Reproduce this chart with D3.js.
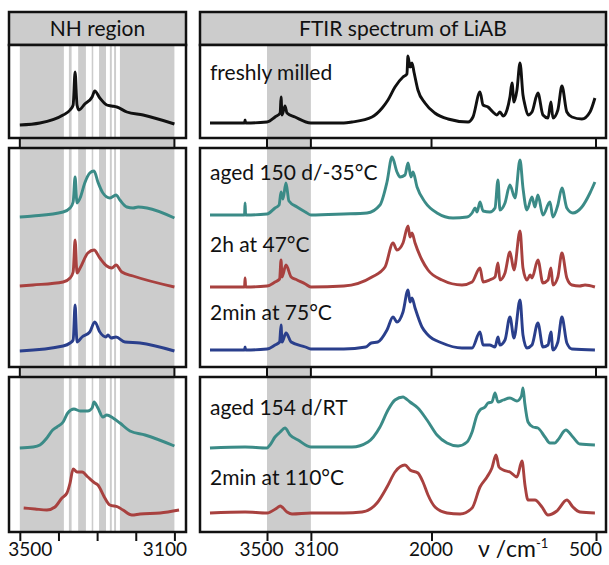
<!DOCTYPE html>
<html>
<head>
<meta charset="utf-8">
<script src="https://cdn.jsdelivr.net/npm/d3@7"></script>
<style>
  body { margin: 0; background: #fff; }
  text { font-family: Lato, 'Liberation Sans', sans-serif; fill: #111; }
</style>
</head>
<body>
<script>
// tick values / labels
var nhTicks = [3500, 3400, 3300, 3200, 3100],
    nhTickLabels = [3500, 3100],
    ftirTicks = [3500, 3100, 2000, 500],
    shadeRange = [3500, 3100];

// grey bands behind the NH region (white stripes in between)
var nhBands = [[3500, 3386], [3373, 3366], [3349, 3329], [3314, 3310],
               [3295, 3277], [3267, 3262], [3256, 3251], [3241, 3100]];

var sampleNames = ['freshly milled', 'aged 150 d/-35\u00B0C', '2h at 47\u00B0C',
                   '2min at 75\u00B0C', 'aged 154 d/RT', '2min at 110\u00B0C'];

// full spectra [wavenumber, absorbance a.u.]
var freshFull = [[4020,0],[3705,0],[3700,3],[3695,0],[3500,1],[3427,6],[3380,10],[3372,26],[3363,8],[3336,17],[3318,10],[3245,6],[3100,0],[2800,0],[2725,1],[2543,6],[2450,15],[2397,23],[2333,36],[2260,46],[2224,49],[2215,67],[2196,56],[2178,60],[2160,51],[2124,33],[2060,20],[1970,10],[1850,4],[1667,1],[1622,6],[1558,31],[1530,18],[1485,16],[1440,11],[1404,8],[1376,11],[1346,7],[1312,13],[1285,26],[1266,40],[1248,21],[1221,33],[1193,60],[1166,28],[1148,18],[1120,8],[1084,11],[1030,30],[984,8],[938,5],[911,21],[893,5],[848,13],[811,37],[766,11],[720,6],[629,4],[555,11],[510,25]];

var aged150Full = [[4020,0],[3705,0],[3700,12],[3695,0],[3500,1],[3427,7],[3390,10],[3372,23],[3355,16],[3327,32],[3300,14],[3226,8],[3150,3],[3100,0],[2800,1],[2588,2],[2470,10],[2406,33],[2360,58],[2315,43],[2287,38],[2242,40],[2214,52],[2187,38],[2169,43],[2132,28],[2060,13],[1950,2],[1804,-3],[1676,-2],[1630,2],[1603,7],[1585,3],[1558,13],[1530,4],[1467,3],[1421,7],[1394,35],[1376,5],[1330,12],[1285,30],[1239,17],[1193,55],[1166,27],[1130,5],[1084,18],[1057,8],[1030,20],[984,0],[920,13],[893,-2],[848,10],[811,27],[766,7],[711,2],[629,8],[555,22],[510,33]];

var h2at47Full = [[4020,0],[3705,0],[3700,9],[3695,0],[3500,1],[3427,5],[3385,8],[3372,27],[3363,10],[3327,22],[3280,10],[3226,7],[3150,3],[3100,0],[2800,1],[2543,10],[2424,20],[2351,44],[2315,37],[2260,44],[2214,61],[2196,50],[2178,54],[2150,44],[2087,27],[2032,17],[1904,7],[1722,2],[1630,5],[1558,19],[1530,5],[1470,7],[1421,10],[1394,24],[1376,7],[1330,14],[1285,35],[1248,17],[1193,56],[1166,19],[1130,7],[1100,12],[1084,9],[1030,27],[984,4],[938,7],[911,19],[893,2],[848,10],[811,34],[766,9],[720,2],[650,1],[600,2],[510,0]];

var min2at75Full = [[4020,0],[3705,0],[3700,3],[3695,0],[3500,1],[3427,5],[3385,8],[3372,25],[3363,8],[3327,17],[3280,8],[3150,3],[3100,1],[2800,1],[2600,3],[2550,7],[2490,8],[2406,20],[2351,33],[2315,28],[2260,38],[2214,60],[2196,48],[2178,52],[2150,42],[2087,23],[2032,15],[1904,7],[1722,2],[1630,2],[1558,18],[1530,5],[1470,5],[1421,3],[1394,13],[1376,5],[1330,10],[1285,33],[1248,12],[1193,50],[1166,15],[1130,2],[1084,5],[1030,27],[984,3],[938,5],[911,18],[893,0],[848,8],[811,33],[766,7],[720,1],[510,0]];

var aged154Full = [[4020,0],[3700,1],[3500,0],[3473,3],[3427,11],[3380,16],[3336,20],[3290,13],[3217,8],[3100,1],[2725,1],[2579,6],[2470,21],[2397,38],[2333,48],[2260,51],[2242,50],[2196,46],[2124,40],[2041,28],[1950,13],[1859,5],[1758,2],[1676,6],[1630,16],[1585,33],[1558,38],[1512,41],[1485,45],[1449,46],[1421,55],[1394,46],[1346,48],[1285,50],[1221,47],[1180,52],[1166,60],[1150,45],[1120,26],[1075,21],[1030,20],[966,11],[920,5],[874,5],[848,8],[775,18],[711,11],[647,4],[510,3]];

var min2at110Full = [[4020,0],[3700,1],[3500,0],[3409,5],[3380,7],[3318,1],[3272,-1],[3100,0],[2800,0],[2634,1],[2497,10],[2406,26],[2333,41],[2242,48],[2196,43],[2124,40],[2078,31],[2032,18],[1968,6],[1859,0],[1740,-1],[1630,5],[1558,26],[1494,36],[1449,45],[1412,58],[1385,46],[1346,43],[1285,41],[1221,36],[1175,52],[1148,28],[1120,13],[1057,13],[993,6],[938,-2],[857,2],[766,13],[711,6],[647,1],[510,0]];

// NH region close-ups
var freshNH = [[3500,0],[3448,2],[3388,10],[3370,15],[3362,20],[3357,53],[3352,20],[3347,15],[3332,21],[3313,28],[3306,34],[3293,27],[3275,20],[3262,19],[3249,18],[3223,13],[3181,10],[3100,1]];
var aged150NH = [[3500,0],[3466,1],[3388,5],[3370,9],[3362,15],[3357,40],[3352,14],[3344,19],[3332,34],[3319,44],[3308,46],[3298,35],[3285,24],[3267,19],[3251,22],[3241,17],[3223,10],[3207,9],[3194,10],[3171,9],[3100,-1]];
var h2at47NH = [[3500,0],[3466,1],[3388,4],[3370,8],[3362,14],[3357,46],[3352,13],[3344,18],[3324,33],[3308,36],[3293,28],[3275,20],[3262,18],[3251,21],[3236,14],[3207,10],[3100,-1]];
var min2at75NH = [[3500,0],[3388,5],[3370,8],[3362,11],[3357,46],[3352,9],[3339,14],[3319,19],[3306,29],[3293,19],[3277,14],[3272,16],[3264,13],[3251,14],[3228,9],[3189,8],[3100,0]];
var aged154NH = [[3500,0],[3466,1],[3448,3],[3430,10],[3415,18],[3404,21],[3388,26],[3376,35],[3360,39],[3344,37],[3324,37],[3313,40],[3308,46],[3298,40],[3285,31],[3275,33],[3259,30],[3241,25],[3215,17],[3176,13],[3100,2]];
var min2at110NH = [[3490,0],[3461,-1],[3430,-2],[3409,1],[3391,10],[3378,15],[3370,25],[3362,39],[3352,36],[3339,36],[3324,31],[3306,25],[3298,23],[3293,20],[3280,10],[3267,3],[3246,1],[3233,-2],[3210,-7],[3189,-6],[3137,-5],[3088,-2]];

var black = '#111', teal = '#3b8b87', red = '#a8413f', blue = '#2a3f8c', grey = '#cccccc';

var svg = d3.select('body').append('svg')
    .attr('width', 609)
    .attr('height', 565);

var xL = d3.scaleLinear().domain([3528, 3070]).range([9, 186]);
var xR = d3.scaleLinear().domain([4111, 409]).range([200, 606]);

var header = { top: 12, bottom: 45 };
var rows = [
    { top: 45, bottom: 138 },
    { top: 148, bottom: 367 },
    { top: 377, bottom: 532 }
];

// traces per row; base = offset above the row bottom
var nhRows = [
    [{ data: freshNH, color: black, base: 13 }],
    [{ data: aged150NH, color: teal, base: 150 }, { data: h2at47NH, color: red, base: 81 }, { data: min2at75NH, color: blue, base: 16 }],
    [{ data: aged154NH, color: teal, base: 84 }, { data: min2at110NH, color: red, base: 24 }]
];
var ftirRows = [
    [{ data: freshFull, color: black, base: 15, name: 0, ty: 80 }],
    [{ data: aged150Full, color: teal, base: 152, name: 1, ty: 180 }, { data: h2at47Full, color: red, base: 80, name: 2, ty: 252 }, { data: min2at75Full, color: blue, base: 17, name: 3, ty: 320 }],
    [{ data: aged154Full, color: teal, base: 84, name: 4, ty: 415 }, { data: min2at110Full, color: red, base: 19, name: 5, ty: 485 }]
];

function drawColumn(x, bands, traceRows, gapTicks, title, withNames) {
    var x0 = x.range()[0], x1 = x.range()[1];
    var g = svg.append('g');

    // title box
    g.append('rect')
        .attr('x', x0).attr('y', header.top)
        .attr('width', x1 - x0).attr('height', header.bottom - header.top)
        .attr('fill', grey).attr('stroke', black).attr('stroke-width', 2.5);
    g.append('text')
        .attr('x', (x0 + x1) / 2).attr('y', 36)
        .attr('text-anchor', 'middle')
        .style('font-size', '21px')
        .text(title);

    // grey strip in the gaps between panels
    for (var i = 0; i < rows.length - 1; i++) {
        var gy0 = rows[i].bottom, gy1 = rows[i + 1].top;
        g.append('rect')
            .attr('x', x(shadeRange[0])).attr('y', gy0)
            .attr('width', x(shadeRange[1]) - x(shadeRange[0])).attr('height', gy1 - gy0)
            .attr('fill', grey);
        g.selectAll(null).data(gapTicks).enter().append('line')
            .attr('x1', d => x(d)).attr('x2', d => x(d))
            .attr('y1', gy0).attr('y2', gy1)
            .attr('stroke', black).attr('stroke-width', 2);
    }

    rows.forEach((r, ri) => {
        var y = d3.scaleLinear().domain([0, r.bottom - r.top]).range([r.bottom, r.top]);
        var p = g.append('g');
        p.append('rect')
            .attr('x', x0).attr('y', r.top)
            .attr('width', x1 - x0).attr('height', r.bottom - r.top)
            .attr('fill', '#fff');
        p.selectAll('rect.band').data(bands).enter().append('rect')
            .attr('class', 'band')
            .attr('x', d => x(d[0])).attr('y', r.top)
            .attr('width', d => x(d[1]) - x(d[0])).attr('height', r.bottom - r.top)
            .attr('fill', grey);

        traceRows[ri].forEach(t => {
            var line = d3.line()
                .x(d => x(d[0]))
                .y(d => y(t.base + d[1]))
                .curve(d3.curveMonotoneX);
            p.append('path')
                .datum(t.data)
                .attr('d', line)
                .attr('fill', 'none')
                .attr('stroke', t.color)
                .attr('stroke-width', 2.9)
                .attr('stroke-linejoin', 'round');
            if (withNames) {
                p.append('text')
                    .attr('x', 210).attr('y', t.ty)
                    .style('font-size', '21px')
                    .text(sampleNames[t.name]);
            }
        });

        p.append('rect')
            .attr('x', x0).attr('y', r.top)
            .attr('width', x1 - x0).attr('height', r.bottom - r.top)
            .attr('fill', 'none').attr('stroke', black).attr('stroke-width', 2.5);
    });
}

drawColumn(xL, nhBands, nhRows, shadeRange, 'NH region', false);
drawColumn(xR, [shadeRange], ftirRows, ftirTicks, 'FTIR spectrum of LiAB', true);

// bottom axes
var last = rows[rows.length - 1].bottom;
var axL = d3.axisBottom(xL)
    .tickValues(nhTicks)
    .tickSize(8)
    .tickFormat(d => nhTickLabels.indexOf(d) >= 0 ? d : '');
var gL = svg.append('g').attr('transform', 'translate(0,' + (last + 1) + ')').call(axL);

var labelShiftL = { 3500: 10, 3100: -10 };
var labelShiftR = { 3500: -6, 3100: 5, 2000: -1, 500: -11 };
var axR = d3.axisBottom(xR)
    .tickValues(ftirTicks)
    .tickSize(8)
    .tickFormat(d => d);
var gR = svg.append('g').attr('transform', 'translate(0,' + (last + 1) + ')').call(axR);

[gL, gR].forEach(a => {
    a.select('.domain').remove();
    a.selectAll('.tick line').attr('stroke', black).attr('stroke-width', 2);
    a.selectAll('.tick text')
        .attr('y', 10)
        .style('font-family', 'Lato, sans-serif')
        .style('font-size', '19px')
        .attr('fill', black);
});
gL.selectAll('.tick text').attr('dx', d => labelShiftL[d] || 0);
gR.selectAll('.tick text').attr('dx', d => labelShiftR[d]);

var unit = svg.append('text')
    .attr('x', 478).attr('y', 557)
    .style('font-size', '23px');
unit.append('tspan').text('\u03BD /cm');
unit.append('tspan').attr('dy', -9).style('font-size', '13px').text('-1');
</script>
</body>
</html>
